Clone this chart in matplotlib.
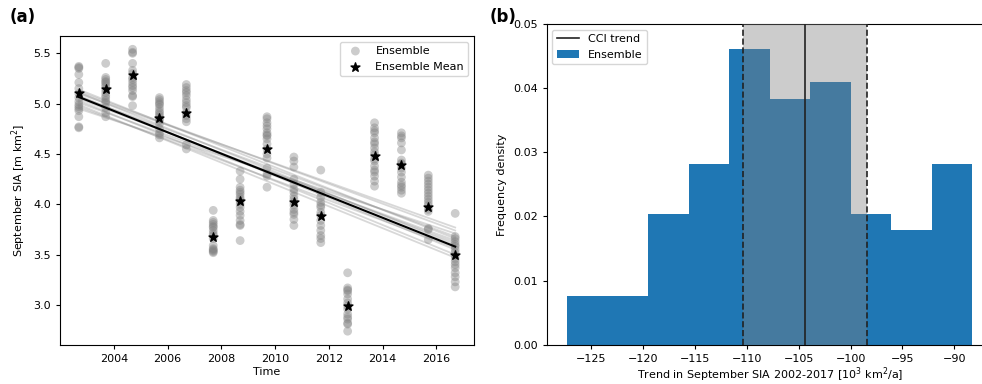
import matplotlib
matplotlib.use("Agg")
import matplotlib.pyplot as plt

# ---- data --------------------------------------------------------------
years = list(range(2002, 2017))
t_offset = 0.7   # September -> fraction of the year

# ensemble members per September (visible circle positions, m km^2)
members = [
    [5.37, 5.36, 5.35, 5.29, 5.21, 5.15, 5.10, 5.06, 5.02, 4.99, 4.97, 4.95, 4.93, 4.87, 4.77, 4.76],   # 2002
    [5.40, 5.26, 5.24, 5.22, 5.21, 5.19, 5.17, 5.14, 5.11, 5.08, 5.06, 5.03, 5.01, 4.96, 4.91, 4.87],   # 2003
    [5.54, 5.51, 5.50, 5.40, 5.33, 5.30, 5.26, 5.24, 5.21, 5.18, 5.16, 5.13, 5.08, 5.07, 4.98],         # 2004
    [5.06, 5.04, 5.02, 5.00, 4.99, 4.96, 4.93, 4.91, 4.89, 4.87, 4.85, 4.83, 4.80, 4.75, 4.71, 4.69, 4.66],  # 2005
    [5.19, 5.16, 5.13, 5.11, 5.08, 5.04, 5.01, 4.98, 4.96, 4.91, 4.88, 4.85, 4.82, 4.59, 4.55],         # 2006
    [3.94, 3.84, 3.82, 3.80, 3.78, 3.77, 3.74, 3.71, 3.69, 3.66, 3.59, 3.56, 3.55, 3.54, 3.53, 3.52],   # 2007
    [4.33, 4.25, 4.17, 4.14, 4.12, 4.10, 4.07, 4.05, 4.03, 4.00, 3.97, 3.93, 3.89, 3.84, 3.80, 3.79, 3.64],  # 2008
    [4.87, 4.85, 4.81, 4.78, 4.75, 4.71, 4.69, 4.68, 4.65, 4.60, 4.55, 4.50, 4.46, 4.36, 4.30, 4.28, 4.17],  # 2009
    [4.47, 4.43, 4.37, 4.25, 4.20, 4.15, 4.12, 4.08, 4.05, 4.02, 3.99, 3.95, 3.92, 3.90, 3.85, 3.79],   # 2010
    [4.34, 4.12, 4.07, 4.02, 3.99, 3.97, 3.92, 3.89, 3.84, 3.79, 3.74, 3.69, 3.66, 3.62],               # 2011
    [3.32, 3.17, 3.15, 3.14, 3.11, 3.06, 3.02, 2.99, 2.96, 2.91, 2.88, 2.86, 2.82, 2.81, 2.74],         # 2012
    [4.81, 4.76, 4.73, 4.71, 4.66, 4.62, 4.60, 4.56, 4.52, 4.49, 4.45, 4.43, 4.38, 4.34, 4.32, 4.28, 4.23, 4.18],  # 2013
    [4.71, 4.68, 4.66, 4.61, 4.54, 4.44, 4.41, 4.40, 4.36, 4.32, 4.27, 4.22, 4.19, 4.17, 4.14, 4.11],   # 2014
    [4.29, 4.26, 4.23, 4.20, 4.17, 4.14, 4.11, 4.08, 4.05, 4.02, 3.99, 3.95, 3.93, 3.76, 3.75, 3.65],   # 2015
    [3.91, 3.68, 3.66, 3.63, 3.60, 3.58, 3.55, 3.52, 3.49, 3.46, 3.43, 3.40, 3.37, 3.32, 3.28, 3.23, 3.18],  # 2016
]
ens_mean = [5.11, 5.15, 5.28, 4.86, 4.91, 3.68, 4.03, 4.55, 4.02, 3.88, 2.99, 4.48, 4.39, 3.97, 3.50]

# member trend lines: value at first and last September
trend_start = [5.14, 5.12, 5.11, 5.10, 5.08, 5.07, 5.05, 5.03, 5.01, 4.99, 4.97, 4.95]
trend_end   = [3.66, 3.74, 3.60, 3.77, 3.55, 3.68, 3.62, 3.50, 3.64, 3.47, 3.57, 3.71]
mean_trend  = [5.066, 3.58]

# histogram of ensemble trends (10^3 km^2/a)
bin_edges  = [-127.36, -123.45, -119.54, -115.63, -111.72, -107.81,
              -103.90, -99.99, -96.08, -92.17, -88.26]
bin_counts = [3, 3, 8, 11, 18, 15, 16, 8, 7, 11]
cci_trend  = -104.4
cci_lo, cci_hi = -110.4, -98.4

# ---- figure -------------------------------------------------------------
fig = plt.figure(figsize=(9.82, 3.84), dpi=100)
plt.rcParams['font.size'] = 8

# (a) time series
ax1 = fig.add_axes([0.0611, 0.1008, 0.4216, 0.8055])
t = [y + t_offset for y in years]
xs, ys = [], []
for ti, vals in zip(t, members):
    xs += [ti] * len(vals)
    ys += vals
ax1.scatter(xs, ys, s=40, color='grey', alpha=0.4, edgecolors='none',
            label='Ensemble', zorder=2)
for a, b in zip(trend_start, trend_end):
    ax1.plot([t[0], t[-1]], [a, b], color='grey', alpha=0.3, lw=1.3, zorder=3)
ax1.plot([t[0], t[-1]], mean_trend, color='black', lw=1.5, zorder=4)
ax1.scatter(t, ens_mean, marker='*', s=45, color='black',
            label='Ensemble Mean', zorder=5)
ax1.set_xlim(2002.0, 2017.4)
ax1.set_ylim(2.60, 5.672)
ax1.set_xticks(range(2004, 2017, 2))
ax1.set_yticks([3.0, 3.5, 4.0, 4.5, 5.0, 5.5])
ax1.set_xlabel('Time', fontsize=8, labelpad=2)
ax1.set_ylabel('September SIA [m km$^2$]', fontsize=8)
ax1.tick_params(labelsize=8, length=3)
ax1.legend(loc='upper right', fontsize=8)
fig.text(0.010, 0.955, '(a)', fontsize=12, fontweight='bold', va='center')

# (b) histogram of trends
ax2 = fig.add_axes([0.5567, 0.1023, 0.4542, 0.835])
ax2.hist(bin_edges[:-1], bins=bin_edges, weights=bin_counts, density=True,
         color='#1f77b4', label='Ensemble', zorder=2)
ax2.axvspan(cci_lo, cci_hi, color='grey', alpha=0.4, lw=0, zorder=3)
ax2.axvline(cci_trend, color='#222222', lw=1.2, label='CCI trend', zorder=4)
ax2.axvline(cci_lo, color='#222222', lw=1.2, ls='--', zorder=4)
ax2.axvline(cci_hi, color='#222222', lw=1.2, ls='--', zorder=4)
ax2.set_xlim(-129.32, -86.29)
ax2.set_ylim(0, 0.05)
ax2.set_xticks(range(-125, -89, 5))
ax2.set_xlabel('Trend in September SIA 2002-2017 [10$^3$ km$^2$/a]', fontsize=8, labelpad=1)
ax2.set_ylabel('Frequency density', fontsize=8)
ax2.tick_params(labelsize=8, length=3)
h, l = ax2.get_legend_handles_labels()
order = [l.index('CCI trend'), l.index('Ensemble')]
ax2.legend([h[i] for i in order], [l[i] for i in order], loc='upper left', fontsize=8)
fig.text(0.4985, 0.957, '(b)', fontsize=12, fontweight='bold', va='center')

fig.savefig('out.png', dpi=100)
